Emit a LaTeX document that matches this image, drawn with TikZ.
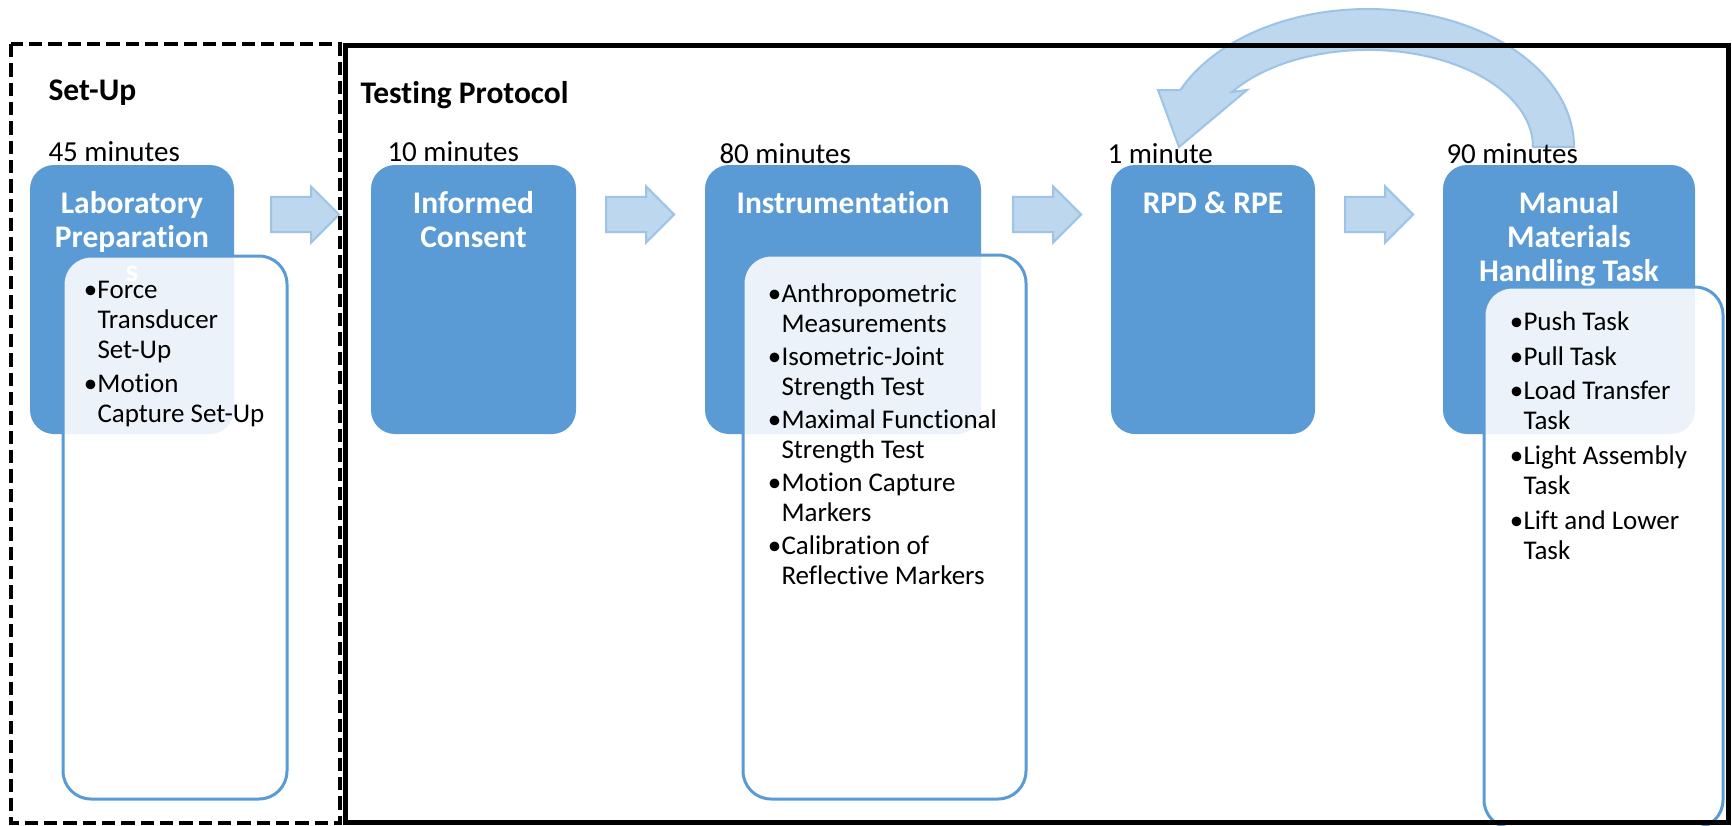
\documentclass[tikz,border=0pt]{standalone}
\usepackage{fontspec}
\setmainfont{Carlito}[Ligatures=CommonOff]
\usetikzlibrary{shapes.arrows,fit,calc}

\definecolor{boxblue}{RGB}{91,155,213}
\definecolor{arrfill}{RGB}{189,215,238}
\definecolor{arrline}{RGB}{157,195,230}

\newcommand{\bul}{\makebox[8.25pt][l]{\hspace{-2pt}\textbullet}}
\newcommand{\cont}{\hspace*{8.25pt}}

\tikzset{every picture/.style={line width=0.75pt}}
\tikzset{
  stagebox/.style={draw=none, fill=boxblue, rounded corners=18pt, inner sep=0pt},
  listbox/.style={draw=boxblue, line width=2.25pt, fill=white, fill opacity=0.88, rounded corners=21pt, inner sep=0pt},
  stagetitle/.style={font=\fontsize{23.6}{25.5}\selectfont\bfseries, text=white, align=center, inner sep=0pt, anchor=north},
  listtext/.style={font=\fontsize{20.25}{22.5}\selectfont, align=left, inner sep=0pt, anchor=north west},
  duration/.style={font=\fontsize{21.75}{24}\selectfont, inner sep=0pt, anchor=base west},
  phase/.style={font=\fontsize{23.6}{26}\selectfont\bfseries, inner sep=0pt, anchor=base west},
  barrow/.style={single arrow, draw=arrline, fill=arrfill, line width=1.5pt, inner sep=12.4pt,
    single arrow head extend=7.9pt, minimum height=51pt, anchor=tip},
}

\begin{document}
\begin{tikzpicture}[x=0.75pt,y=0.75pt,yscale=-1,xscale=1]
\useasboundingbox (0,0) rectangle (1732,825);

%Shape: Rounded Rect [id:lab]
\node[stagebox, fit={(30,165) (234,434)}] (lab) {};
\node[stagetitle] (labT) at ([yshift=18.5pt]lab.north) {\strut Laboratory\\Preparation\\s};
%Shape: Rounded Rect [id:cons]
\node[stagebox, fit={(371,165) (576,434)}] (cons) {};
\node[stagetitle] (consT) at ([yshift=18.5pt]cons.north) {\strut Informed\\Consent};
%Shape: Rounded Rect [id:instr]
\node[stagebox, fit={(705,165) (981,434)}] (instr) {};
\node[stagetitle] (instrT) at ([yshift=18.5pt]instr.north) {\strut Instrumentation};
%Shape: Rounded Rect [id:rpd]
\node[stagebox, fit={(1111,165) (1315,434)}] (rpd) {};
\node[stagetitle] (rpdT) at ([yshift=18.5pt]rpd.north) {\strut RPD \& RPE};
%Shape: Rounded Rect [id:mmh]
\node[stagebox, fit={(1443,165) (1695,434)}] (mmh) {};
\node[stagetitle] (mmhT) at ([yshift=18.5pt]mmh.north) {\strut Manual\\Materials\\Handling Task};

%Shape: Rounded Rect [id:labL]
\node[listbox, fit={(63,256) (287,799)}] (labL) {};
%Shape: Rounded Rect [id:instrL]
\node[listbox, fit={(743,255) (1026,799)}] (instrL) {};
%Shape: Rounded Rect [id:mmhL]
\node[listbox, fit={(1484,287) (1723,828)}] (mmhL) {};

% Text Node
\node[listtext] (labB) at (86,277) {\strut\bul Force\\ \cont Transducer\\ \cont Set-Up\\[3pt] \bul Motion\\ \cont Capture Set-Up};
% Text Node
\node[listtext] (instrB) at (770,281) {\strut\bul Anthropometric\\ \cont Measurements\\[2.25pt] \bul Isometric-Joint\\ \cont Strength Test\\[2.25pt] \bul Maximal Functional\\ \cont Strength Test\\[2.25pt] \bul Motion Capture\\ \cont Markers\\[2.25pt] \bul Calibration of\\ \cont Reflective Markers};
% Text Node
\node[listtext] (mmhB) at (1512,309) {\strut\bul Push Task\\[3.75pt] \bul Pull Task\\[3pt] \bul Load Transfer\\ \cont Task\\[4pt] \bul Light Assembly\\ \cont Task\\[3.75pt] \bul Lift and Lower\\ \cont Task};

%Shape: Right Arrow
\node[barrow] (ar1) at ($(cons.north west)+(-30,50)$) {};
\node[barrow] (ar2) at ($(instr.north west)+(-29,50)$) {};
\node[barrow] (ar3) at ($(rpd.north west)+(-28,50)$) {};
\node[barrow] (ar4) at ($(mmh.north west)+(-28,50)$) {};

%Shape: Curved Arrow [id:back]
\draw [draw=arrline, fill=arrfill, line width=1.5pt] (1574,147) arc[start angle=0, end angle=-155.6, x radius=206, y radius=138] -- (1158,90) -- (1179,147) -- (1247,90) -- (1232,92) arc[start angle=-145.5, end angle=0, x radius=165, y radius=97] -- cycle ;

% Text Node
\node[duration] (labD) at (48,161) {45 minutes};
% Text Node
\node[duration] (consD) at (387,161) {10 minutes};
% Text Node
\node[duration] (instrD) at (719,163) {80 minutes};
% Text Node
\node[duration] (rpdD) at (1107,163) {1 minute};
% Text Node
\node[duration] (mmhD) at (1446,163) {90 minutes};
% Text Node
\node[phase] (setup) at (48,100) {Set-Up};
% Text Node
\node[phase] (testing) at (360,103) {Testing Protocol};

%Shape: Rectangle [id:setupframe]
\draw [line width=2.6pt, dash pattern={on 10pt off 4.5pt}] (11,44) rectangle (340,823) ;
%Shape: Rectangle [id:testframe]
\draw [line width=3.75pt] (345,45) rectangle (1728,822) ;

\end{tikzpicture}
\end{document}
